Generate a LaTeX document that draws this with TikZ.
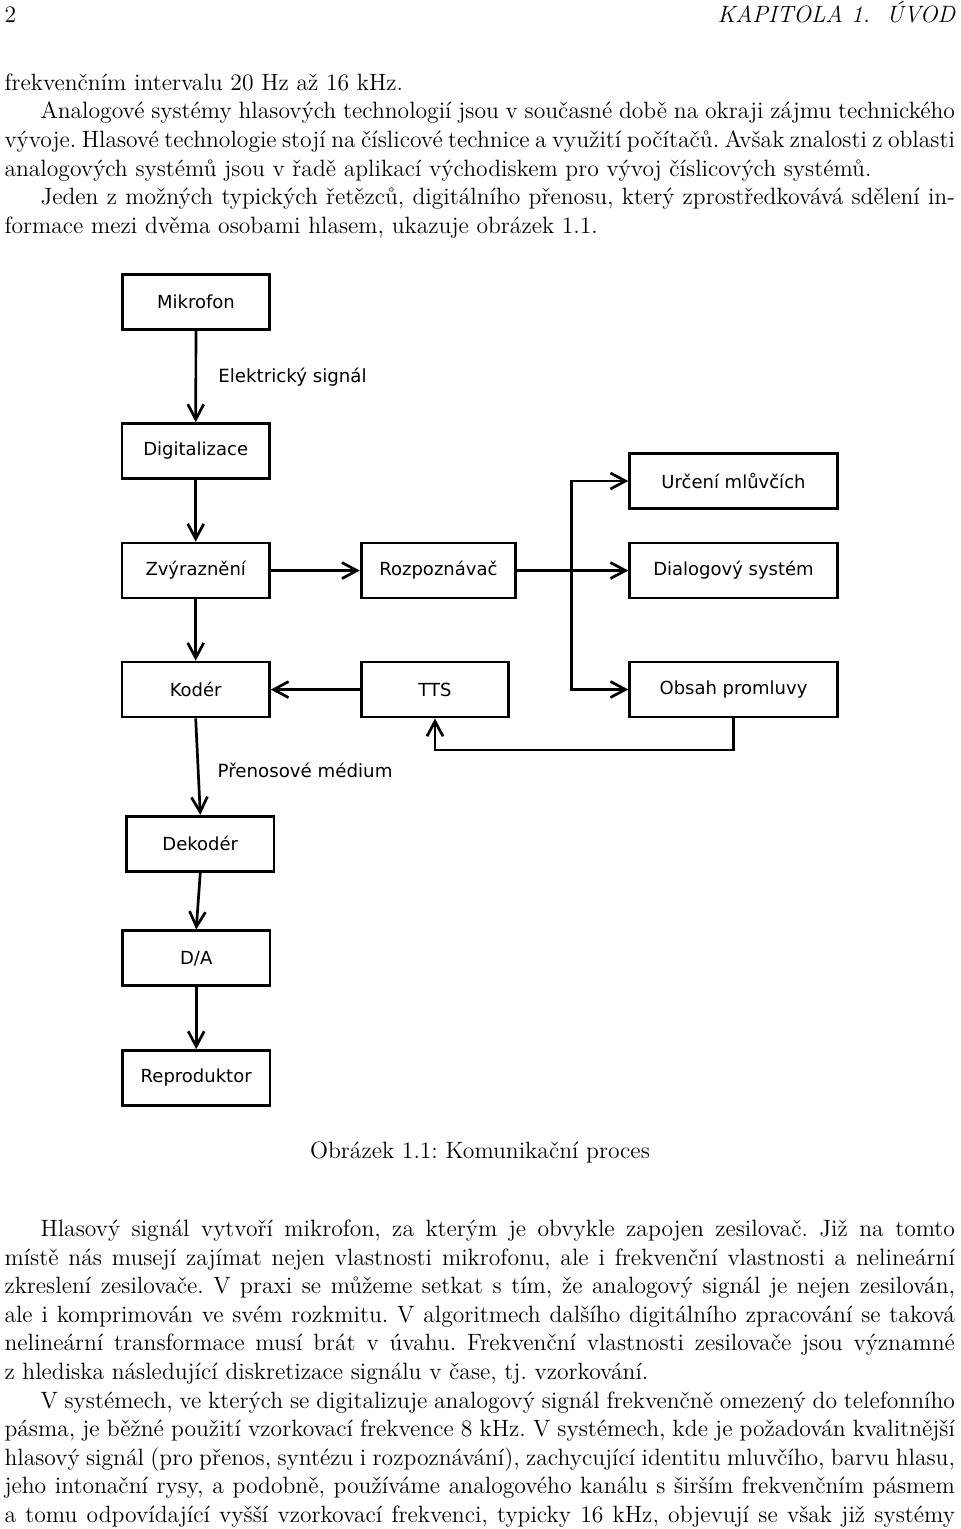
\documentclass[tikz,border=0pt]{standalone}
\usepackage{fontspec}
\newfontfamily\djsans{DejaVu Sans}
\usetikzlibrary{arrows.meta}
\newcommand\fullln[1]{\makebox[475.25pt][s]{#1}}
\newcommand\indln[1]{\makebox[457.25pt][s]{#1}}
\begin{document}
\begin{tikzpicture}[x=0.5pt,y=-0.5pt,
  txt/.style={inner sep=0pt,outer sep=0pt,anchor=base west,font=\fontsize{11.8}{14.5}\selectfont\frenchspacing},
  blk/.style={draw,line width=1.35pt,minimum width=73.65pt,minimum height=27.5pt,inner sep=0pt,font=\djsans\fontsize{9}{10}\selectfont},
  lbl/.style={inner sep=0pt,anchor=west,font=\djsans\fontsize{9.1}{10}\selectfont},
  arr/.style={line width=1.35pt,-{Straight Barb[length=7.5pt,width=8pt]}}]
\fill[white] (0,0) rectangle (960,1529);
\useasboundingbox (0,0) rectangle (960,1529);
% header
\node[txt] (pg) at (4.5,22.5) {2};
\node[txt,anchor=base east] (hd) at (955,22.5) {\itshape KAPITOLA 1.\ \ ÚVOD};
% top text
\node[txt] (a1) at (4.5,90.3) {frekvenčním intervalu 20 Hz až 16 kHz.};
\node[txt] (a2) at (40.5,118.9) {\indln{Analogové systémy hlasových technologií jsou v současné době na okraji zájmu technického}};
\node[txt] (a3) at (4.5,147.5) {\fullln{vývoje. Hlasové technologie stojí na číslicové technice a využití počítačů. Avšak znalosti z oblasti}};
\node[txt] (a4) at (4.5,176.1) {analogových systémů jsou v řadě aplikací východiskem pro vývoj číslicových systémů.};
\node[txt] (a5) at (40.5,204.7) {\indln{Jeden z možných typických řetězců, digitálního přenosu, který zprostředkovává sdělení in-}};
\node[txt] (a6) at (4.5,233.3) {formace mezi dvěma osobami hlasem, ukazuje obrázek 1.1.};
% diagram boxes
\node[blk] (mik) at (196,301.7) {Mikrofon};
\node[blk] (dig) at (195.7,451) {Digitalizace};
\node[blk] (zvy) at (195.7,570.5) {Zvýraznění};
\node[blk,minimum width=77.25pt] (roz) at (438.4,570.6) {Rozpoznávač};
\node[blk,minimum width=103.85pt] (urc) at (733.5,481) {Určení mlůvčích};
\node[blk,minimum width=103.85pt] (dia) at (733.5,570.5) {Dialogový systém};
\node[blk,minimum width=103.85pt] (obs) at (733.5,689.5) {Obsah promluvy};
\node[blk] (kod) at (195.7,689.6) {Kodér};
\node[blk] (tts) at (435,689.6) {TTS};
\node[blk] (dek) at (200.3,843.7) {Dekodér};
\node[blk] (da) at (196.2,958.3) {D/A};
\node[blk] (rep) at (196.2,1078) {Reproduktor};
% labels
\node[lbl] (l1) at (218,377) {Elektrický signál};
\node[lbl] (l2) at (217.3,770.5) {Přenosové médium};
% connectors
\coordinate (bx) at (571.6,570.5);
\coordinate (tb) at (733.5,750);
\draw[arr] (mik) -- (dig);
\draw[arr] (dig) -- (zvy);
\draw[arr] (zvy) -- (roz);
\draw[arr] (roz) -- (dia);
\draw[arr] (bx) |- (urc.west);
\draw[arr] (bx) |- (obs.west);
\draw[arr] (zvy) -- (kod);
\draw[arr] (tts) -- (kod);
\draw[arr] (obs.south) -- (tb) -| (tts.south);
\draw[arr] (kod.south) -- (dek.north);
\draw[arr] (dek.south) -- (da.north);
\draw[arr] (da) -- (rep);
% caption
\node[txt,anchor=base] (cap) at (480,1158.5) {Obrázek 1.1: Komunikační proces};
% bottom text
\node[txt] (b1) at (40.5,1236.5) {\indln{Hlasový signál vytvoří mikrofon, za kterým je obvykle zapojen zesilovač. Již na tomto}};
\node[txt] (b2) at (4.5,1265.1) {\fullln{místě nás musejí zajímat nejen vlastnosti mikrofonu, ale i frekvenční vlastnosti a nelineární}};
\node[txt] (b3) at (4.5,1293.7) {\fullln{zkreslení zesilovače. V praxi se můžeme setkat s tím, že analogový signál je nejen zesilován,}};
\node[txt] (b4) at (4.5,1322.3) {\fullln{ale i komprimován ve svém rozkmitu. V algoritmech dalšího digitálního zpracování se taková}};
\node[txt] (b5) at (4.5,1350.9) {\fullln{nelineární transformace musí brát v úvahu. Frekvenční vlastnosti zesilovače jsou významné}};
\node[txt] (b6) at (4.5,1379.5) {z hlediska následující diskretizace signálu v čase, tj. vzorkování.};
\node[txt] (b7) at (40.5,1408.1) {\indln{V systémech, ve kterých se digitalizuje analogový signál frekvenčně omezený do telefonního}};
\node[txt] (b8) at (4.5,1436.7) {\fullln{pásma, je běžné použití vzorkovací frekvence 8 kHz. V systémech, kde je požadován kvalitnější}};
\node[txt] (b9) at (4.5,1465.3) {\fullln{hlasový signál (pro přenos, syntézu i rozpoznávání), zachycující identitu mluvčího, barvu hlasu,}};
\node[txt] (b10) at (4.5,1493.9) {\fullln{jeho intonační rysy, a podobně, používáme analogového kanálu s širším frekvenčním pásmem}};
\node[txt] (b11) at (4.5,1522.5) {\fullln{a tomu odpovídající vyšší vzorkovací frekvenci, typicky 16 kHz, objevují se však již systémy}};
\end{tikzpicture}
\end{document}
